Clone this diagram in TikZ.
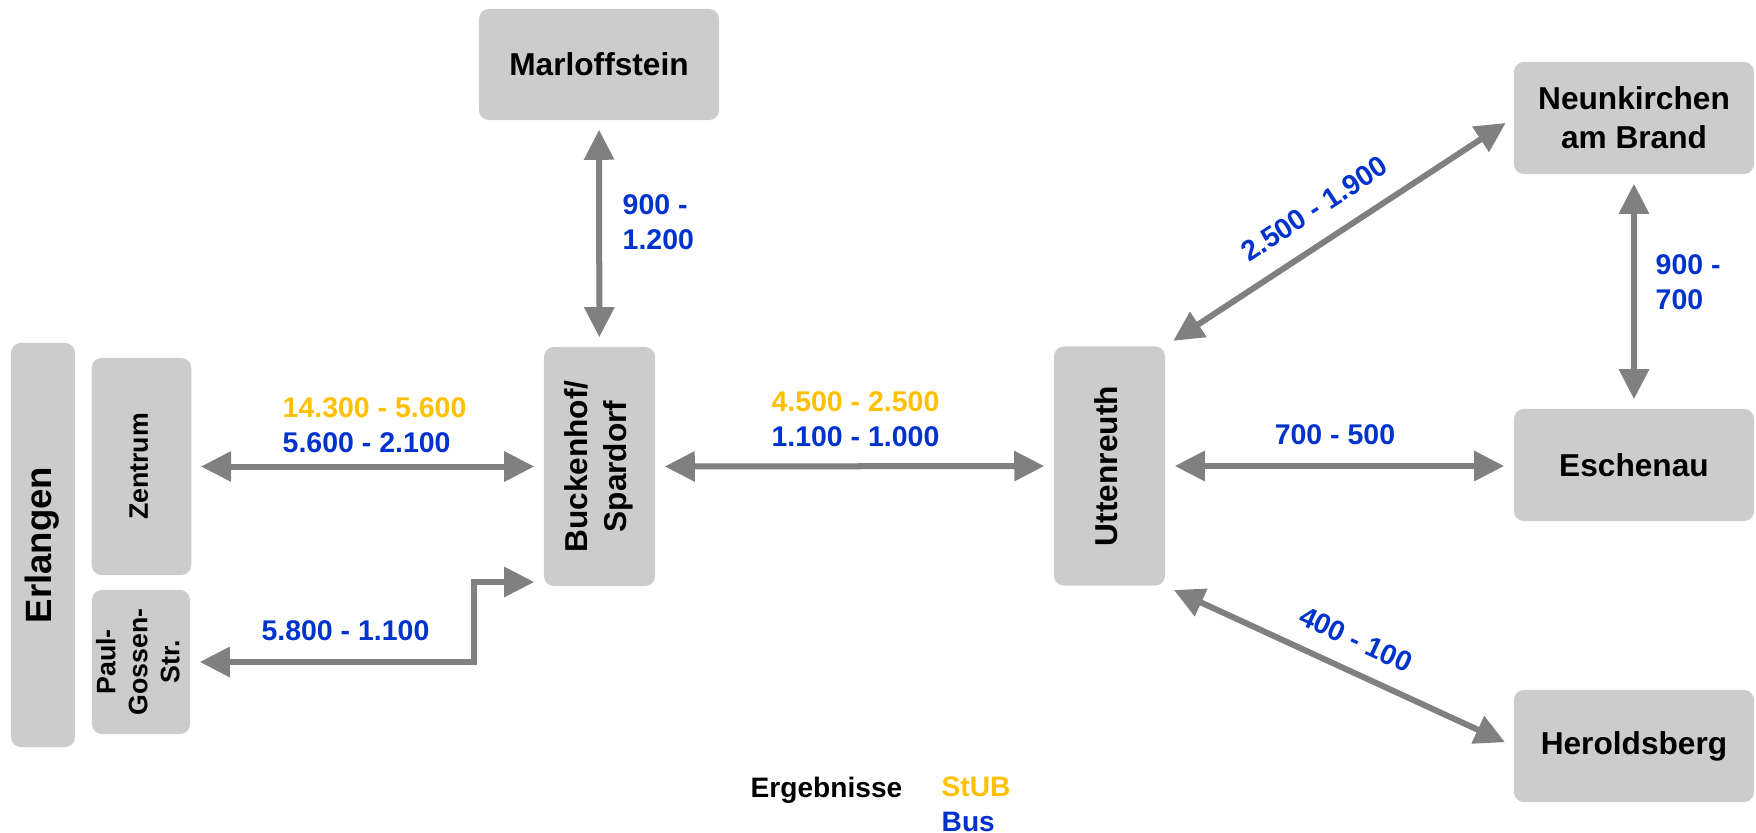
\documentclass[tikz,border=0pt]{standalone}
\usepackage{fontspec}
\setmainfont{Liberation Sans}
\usepackage{graphicx}
\usetikzlibrary{arrows.meta}

\definecolor{stubgelb}{HTML}{FFC000}
\definecolor{busblau}{HTML}{0033CC}
\definecolor{pfeilgrau}{HTML}{808080}
\definecolor{kastengrau}{HTML}{CCCCCC}
\newcommand{\hoch}[1]{\rotatebox{90}{\begin{tabular}{@{}c@{}}#1\end{tabular}}}

\begin{document}
\begin{tikzpicture}[x=0.01cm, y=-0.01cm,
        ort/.style={fill=kastengrau, rounded corners=0.1cm, inner sep=0pt, align=center,
            font=\fontsize{9}{11}\selectfont\bfseries},
        klein/.style={font=\fontsize{7.6}{9.1}\selectfont\bfseries},
        pfeil/.style={draw=pfeilgrau, line width=0.06cm,
            {Triangle[length=0.3cm,width=0.29cm]}-{Triangle[length=0.3cm,width=0.29cm]},
            shorten <=0.09cm, shorten >=0.09cm},
        wert/.style={inner sep=0pt, text=busblau, align=left,
            font=\fontsize{8.1}{10}\selectfont\bfseries}]
        \useasboundingbox (0,0) rectangle (1756,833);

        % Erlangen
        \node[ort, minimum width=0.64cm, minimum height=4.04cm,
            font=\fontsize{10.4}{12}\selectfont\bfseries] (erl) at (43,545) {\hoch{Erlangen}};
        \node[ort, klein, minimum width=0.995cm, minimum height=2.17cm] (zen) at (141.5,466.5) {\hoch{Zentrum}};
        \node[ort, klein, minimum width=0.98cm, minimum height=1.44cm] (paul) at (141,662) {\hoch{Paul-\\Gossen-\\Str.}};

        % Orte
        \node[ort, minimum width=2.4cm, minimum height=1.11cm] (marl) at (599,64.5) {Marloffstein};
        \node[ort, minimum width=1.11cm, minimum height=2.39cm] (buck) at (599.5,466.5) {\hoch{Buckenhof/\\Spardorf}};
        \node[ort, minimum width=1.11cm, minimum height=2.39cm] (utt) at (1109.5,466) {\hoch{Uttenreuth}};
        \node[ort, minimum width=2.4cm, minimum height=1.12cm] (neun) at (1634,118) {Neunkirchen\\am Brand};
        \node[ort, minimum width=2.4cm, minimum height=1.12cm] (esch) at (1634,465) {Eschenau};
        \node[ort, minimum width=2.4cm, minimum height=1.12cm] (her) at (1634,746) {Heroldsberg};

        % Pfeile
        \coordinate (knick) at (474,582);
        \draw[pfeil] (marl) -- (buck);
        \draw[pfeil] (zen) -- (buck);
        \draw[pfeil] (paul.east) -- (paul.east -| knick) -- (knick) -- (knick -| buck.west);
        \draw[pfeil] (buck) -- (utt);
        \draw[pfeil] (utt.east) -- (utt.east -| esch.west);
        \draw[pfeil] (neun) -- (esch);
        \draw[pfeil] (utt.north east) -- (neun.west)
            node[wert, sloped, above=0.2cm, pos=0.48] (w-neun) {2.500 - 1.900};
        \draw[pfeil] (utt.south east) -- (her.west)
            node[wert, sloped, above=0.18cm, pos=0.51] (w-her) {400 - 100};

        % Werte
        \node[wert, anchor=west] (w-zen) at (282,425) {{\color{stubgelb}14.300 - 5.600}\\5.600 - 2.100};
        \node[wert] (w-paul) at (345.5,631) {5.800 - 1.100};
        \node[wert, anchor=west] (w-marl) at (622,222) {900 -\\1.200};
        \node[wert, align=center] (w-utt) at (855.5,419) {{\color{stubgelb}4.500 - 2.500}\\1.100 - 1.000};
        \node[wert] (w-esch) at (1335,435) {700 - 500};
        \node[wert, anchor=west] (w-ne) at (1655,282) {900 -\\700};

        % Legende
        \node[inner sep=0pt, anchor=base east, font=\fontsize{8}{10}\selectfont\bfseries] (erg) at (903,797) {Ergebnisse};
        \node[inner sep=0pt, anchor=west, align=left, text=stubgelb,
            font=\fontsize{8}{10}\selectfont\bfseries] (leg) at (941,804) {StUB\\{\color{busblau}Bus}};
\end{tikzpicture}
\end{document}
